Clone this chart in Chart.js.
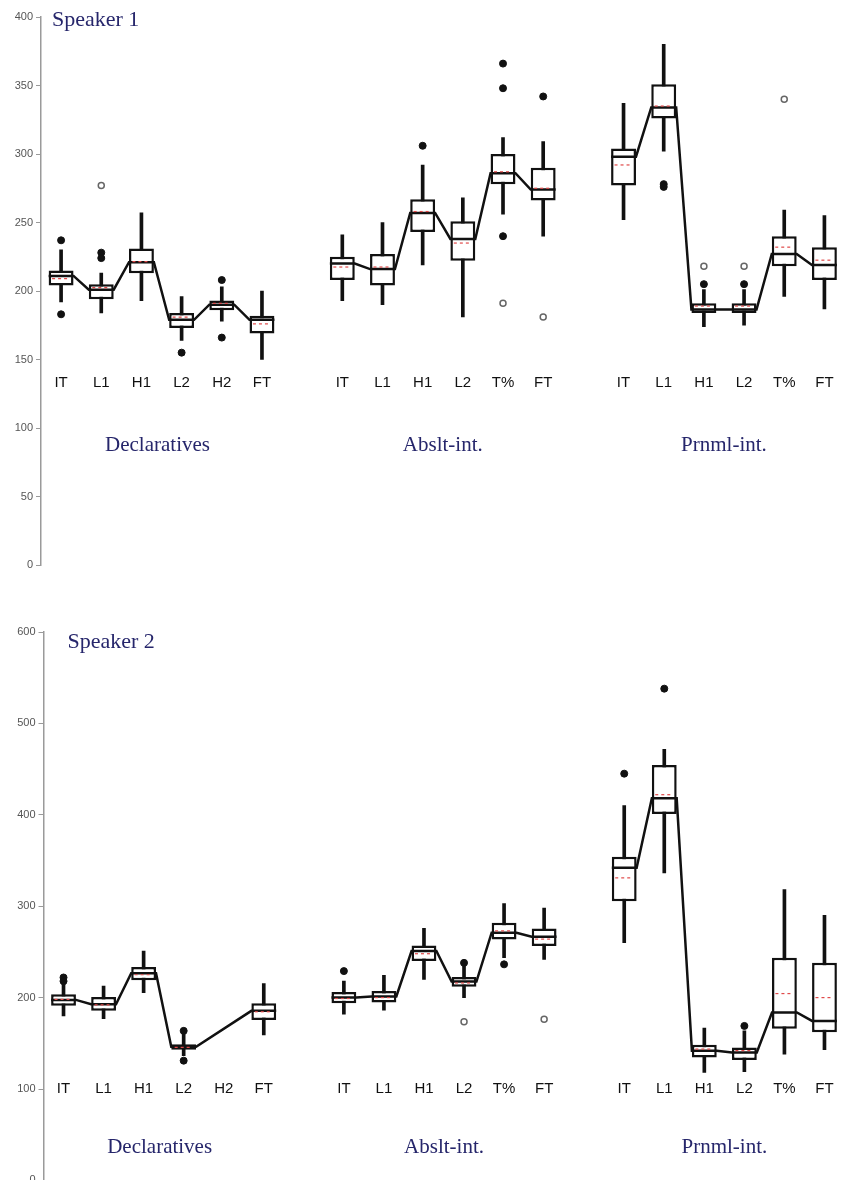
<!DOCTYPE html>
<html>
<head>
<meta charset="utf-8">
<script src="https://cdn.jsdelivr.net/npm/chart.js@4.4.0/dist/chart.umd.min.js"></script>
<style>
html, body { margin: 0; padding: 0; background: #fff; width: 850px; height: 1180px; overflow: hidden; }
canvas { position: absolute; left: 0; }
#falante1 { top: 0; }
#falante2 { top: 590px; }
</style>
</head>
<body>
<canvas id="falante1" width="850" height="590"></canvas>
<canvas id="falante2" width="850" height="600"></canvas>
<script>
// categorias (posicoes 6 e 13 ficam vazias entre os grupos)
var categorias = ['IT', 'L1', 'H1', 'L2', 'H2', 'FT', '', 'IT', 'L1', 'H1', 'L2', 'T%', 'FT', '', 'IT', 'L1', 'H1', 'L2', 'T%', 'FT'];
var grupos = ['Declaratives', 'Abslt-int.', 'Prnml-int.'];
var grupoInicio = [0, 7, 14];
var grupoFim = [5, 12, 19];

// Speaker 1
var s1Q1 =      [204, 194, 213, 173, 186, 169, null, 208, 204, 243, 222, 278, 266, null, 277, 326, 184, 184, 218, 208];
var s1Q3 =      [215, 205, 231, 184, 193, 182, null, 225, 227, 267, 251, 300, 290, null, 304, 351, 191, 191, 240, 232];
var s1Mediana = [211, 201, 221, 179, 190, 179, null, 220, 216, 257, 238, 286, 274, null, 298, 334, 186.5, 186.5, 227, 219];
var s1Media =   [209, 202.5, 221.5, 181, 191, 176, null, 217.5, 217.5, 258, 235, 287, 275, null, 292, 335, 189, 189, 232, 222.5];
var s1Min =     [192, 184, 193, 164, 178, 150, null, 193, 190, 219, 181, 256, 240, null, 252, 302, 174, 175, 196, 187];
var s1Max =     [230, 213, 257, 196, 203, 200, null, 241, 250, 292, 268, 312, 309, null, 337, 380, 201, 201, 259, 255];
var s1Cheios =  [[237, 183], [228, 224], [], [155], [208, 166], [], [], [], [], [306], [], [366, 348, 240], [342], [], [], [278, 276], [205], [205], [], []];
var s1Vazios =  [[], [277], [], [], [], [], [], [], [], [], [], [191], [181], [], [], [], [218], [218], [340], []];

// Speaker 2 (sem H2 nas declarativas)
var s2Q1 =      [191, 185.5, 219, 143, null, 175.6, null, 193.8, 194.6, 240, 212, 263.7, 256.4, null, 305.4, 401, 134.6, 131.7, 166, 162];
var s2Q3 =      [203.7, 200.7, 233.5, 149, null, 193.8, null, 206.2, 207.3, 257, 222.5, 282, 275.7, null, 354, 454.6, 148.4, 145.5, 243.7, 238.2];
var s2Mediana = [197.5, 192.8, 226.6, 146.2, null, 185.5, null, 200, 201.2, 251, 217.5, 271, 266.6, null, 342, 418, 141.8, 140, 183.7, 174.5];
var s2Media =   [198, 192, 225, 145.5, null, 184.5, null, 199, 200, 248, 216, 273, 264, null, 331, 422, 143.7, 142, 204.4, 200];
var s2Min =     [180, 177, 205.5, 136.4, null, 159.3, null, 181.8, 186.2, 220, 200, 243.7, 241.8, null, 260, 336.4, 118.2, 119, 138.2, 143];
var s2Max =     [216.4, 212.7, 251, 162, null, 215.3, null, 218.2, 224.4, 275.7, 234.5, 303, 298, null, 410, 471.7, 166.6, 163.6, 318.2, 290];
var s2Cheios =  [[222, 218], [], [], [163.6, 131], [], [], [], [229], [], [], [238], [236.4], [], [], [445], [538], [], [169], [], []];
var s2Vazios =  [[], [], [], [], [], [], [], [], [], [], [173.5], [], [176.4], [], [], [], [], [], [], []];

var LARGURA = 0.62; // fracao da categoria ocupada pela caixa
var MEIA = LARGURA / 2;

function montarDatasets(q1, q3, med, wmin, wmax, cheios, vazios) {
	let caixas = [], bigodes = [], pCheios = [], pVazios = [];
	for (let i = 0; i < categorias.length; i++) {
		for (let k = 0; k < cheios[i].length; k++) pCheios.push({ x: i, y: cheios[i][k] });
		for (let k = 0; k < vazios[i].length; k++) pVazios.push({ x: i, y: vazios[i][k] });
		if (q1[i] == null) continue;
		caixas.push({ x: i, y: [q1[i], q3[i]] });
		bigodes.push({ x: i, y: [wmin[i], wmax[i]] });
	}
	let ds = [
		{ type: 'bar', data: bigodes, backgroundColor: '#111', borderWidth: 0, barThickness: 3, grouped: false, order: 3 },
		{ type: 'bar', data: caixas, backgroundColor: '#fff', borderColor: '#111', borderWidth: 2.5, borderSkipped: false,
		  categoryPercentage: 1, barPercentage: LARGURA, grouped: false, order: 2 },
		{ type: 'line', data: pCheios, showLine: false, pointRadius: 3.5, pointBackgroundColor: '#111', pointBorderColor: '#111', pointBorderWidth: 1, order: 1 },
		{ type: 'line', data: pVazios, showLine: false, pointRadius: 3, pointBackgroundColor: '#fff', pointBorderColor: '#666', pointBorderWidth: 1.5, order: 1 }
	];
	// linha das medianas, de borda a borda das caixas
	for (let g = 0; g < grupoInicio.length; g++) {
		let linha = [];
		for (let i = grupoInicio[g]; i <= grupoFim[g]; i++) {
			if (med[i] == null) continue;
			linha.push({ x: i - MEIA, y: med[i] }, { x: i + MEIA, y: med[i] });
		}
		ds.push({ type: 'line', data: linha, borderColor: '#111', borderWidth: 2.5, pointRadius: 0, tension: 0, order: 0 });
	}
	return ds;
}

var rotulos = {
	id: 'rotulos',
	afterDatasetsDraw: function (chart, args, opts) {
		let ctx = chart.ctx, x = chart.scales.x, y = chart.scales.y;
		ctx.save();
		// medias: tracejado vermelho
		ctx.strokeStyle = '#e04a4a';
		ctx.lineWidth = 1.2;
		ctx.setLineDash([3, 3]);
		for (let i = 0; i < opts.media.length; i++) {
			if (opts.media[i] == null) continue;
			let px = x.getPixelForValue(i), py = y.getPixelForValue(opts.media[i]);
			ctx.beginPath();
			ctx.moveTo(px - 9, py);
			ctx.lineTo(px + 9, py);
			ctx.stroke();
		}
		ctx.setLineDash([]);
		// categorias
		ctx.fillStyle = '#111';
		ctx.font = '15px "Liberation Sans", Arial, sans-serif';
		ctx.textAlign = 'center';
		ctx.textBaseline = 'middle';
		for (let i = 0; i < categorias.length; i++) {
			ctx.fillText(categorias[i], x.getPixelForValue(i), y.getPixelForValue(opts.yCategoria));
		}
		// grupos
		ctx.fillStyle = '#26266b';
		ctx.font = '21px "Liberation Serif", "Times New Roman", serif';
		for (let g = 0; g < grupos.length; g++) {
			ctx.fillText(grupos[g], x.getPixelForValue(opts.centros[g]), y.getPixelForValue(opts.yGrupo));
		}
		// titulo
		ctx.font = '22px "Liberation Serif", "Times New Roman", serif';
		ctx.textAlign = 'left';
		ctx.textBaseline = 'alphabetic';
		ctx.fillText(opts.titulo, chart.chartArea.left + opts.dx, chart.chartArea.top + opts.dy);
		ctx.restore();
	}
};

function carregarGrafico(id, dados, maxY, passo, larguraY, padding, textos) {
	let canvas = document.getElementById(id);
	return new Chart(canvas, {
		type: 'bar',
		data: { datasets: dados },
		plugins: [rotulos],
		options: {
			responsive: false,
			animation: false,
			events: [],
			devicePixelRatio: 1,
			layout: { padding: padding },
			plugins: {
				legend: { display: false },
				tooltip: { enabled: false },
				rotulos: textos
			},
			scales: {
				x: {
					type: 'linear',
					min: -0.5,
					max: categorias.length - 0.5,
					offset: false,
					display: false,
					afterBuildTicks: function (s) { s.ticks = [{ value: s.min }, { value: s.max }]; }
				},
				y: {
					min: 0,
					max: maxY,
					ticks: { stepSize: passo, color: '#555', padding: 3, font: { family: '"Liberation Sans", Arial, sans-serif', size: 11 } },
					grid: { drawOnChartArea: false, drawTicks: true, tickLength: 5, color: '#9a9a9a' },
					border: { display: true, color: '#9a9a9a', width: 1.5 },
					afterFit: function (s) { s.width = larguraY; }
				}
			}
		}
	});
}

carregarGrafico('falante1',
	montarDatasets(s1Q1, s1Q3, s1Mediana, s1Min, s1Max, s1Cheios, s1Vazios),
	400, 50, 41, { top: 17, bottom: 25, left: 0, right: 2 },
	{ media: s1Media, yCategoria: 133, yGrupo: 87, centros: [2.4, 9.5, 16.5], titulo: 'Speaker 1', dx: 11, dy: 9 });

carregarGrafico('falante2',
	montarDatasets(s2Q1, s2Q3, s2Mediana, s2Min, s2Max, s2Cheios, s2Vazios),
	600, 100, 43.5, { top: 42, bottom: 8, left: 0, right: 3 },
	{ media: s2Media, yCategoria: 100, yGrupo: 36, centros: [2.4, 9.5, 16.5], titulo: 'Speaker 2', dx: 24, dy: 16 });
</script>
</body>
</html>
